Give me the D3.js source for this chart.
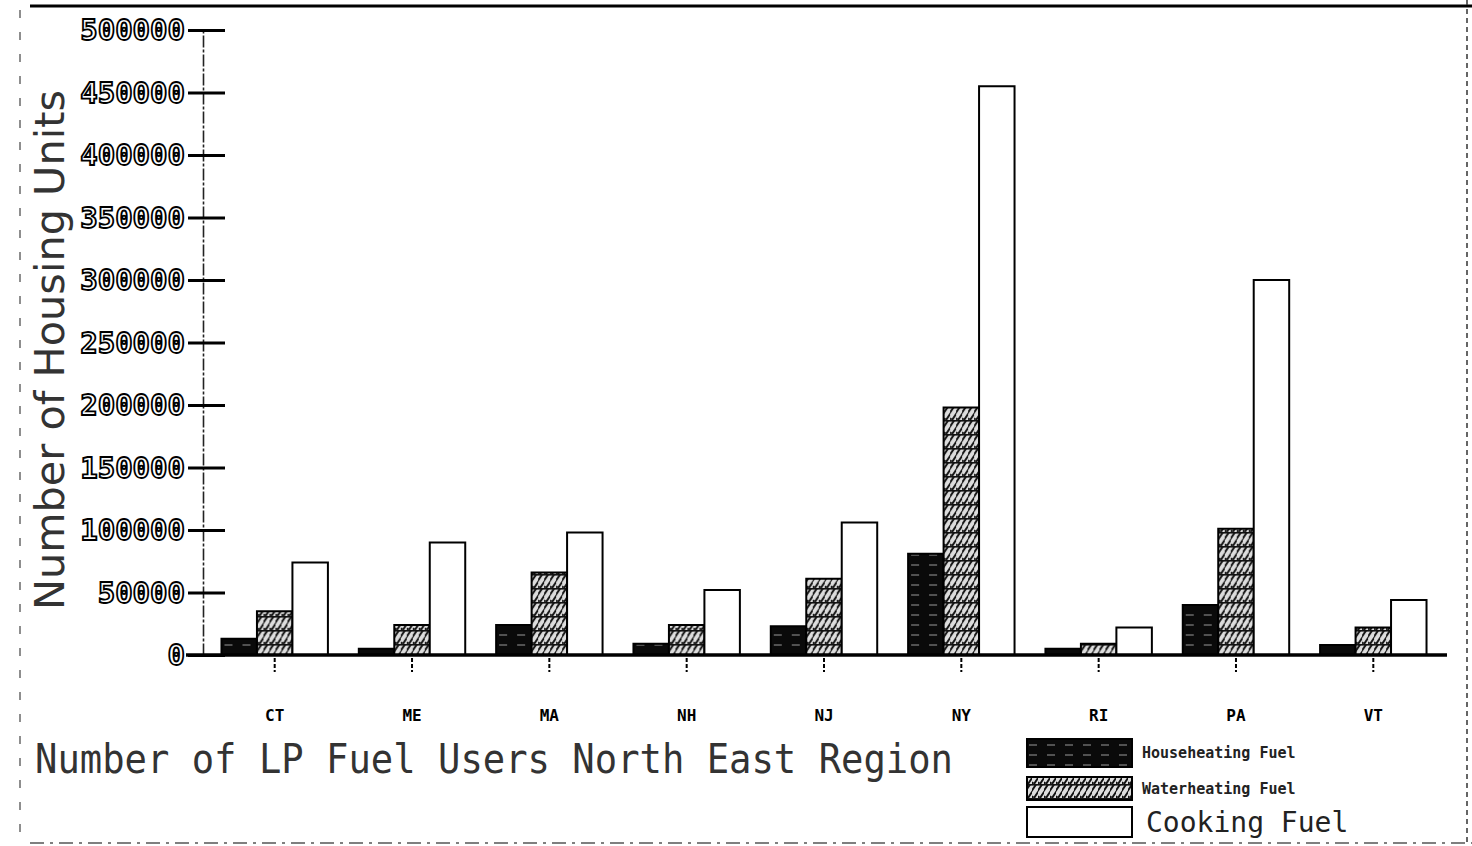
<!DOCTYPE html>
<html>
<head>
<meta charset="utf-8">
<script src="https://cdn.jsdelivr.net/npm/d3@7"></script>
<style>
  body { margin: 0; background: #fff; }
  svg { display: block; }
</style>
</head>
<body>
<div id="chart"></div>
<script>
const width = 1472;
const height = 846;

const states = ["CT", "ME", "MA", "NH", "NJ", "NY", "RI", "PA", "VT"];
const seriesNames = ["Househeating Fuel", "Waterheating Fuel", "Cooking Fuel"];
const househeating = [13000, 5000, 24000, 9000, 23000, 81000, 5000, 40000, 8000];
const waterheating = [35000, 24000, 66000, 24000, 61000, 198000, 9000, 101000, 22000];
const cooking = [74000, 90000, 98000, 52000, 106000, 455000, 22000, 300000, 44000];
const yTicks = [0, 50000, 100000, 150000, 200000, 250000, 300000, 350000, 400000, 450000, 500000];

const seriesValues = [househeating, waterheating, cooking];
const fills = ["url(#house)", "url(#water)", "#fff"];

const svg = d3.select("#chart")
    .append("svg")
    .attr("width", width)
    .attr("height", height);

const defs = svg.append("defs");

// dark fill with broken white streaks
const house = defs.append("pattern")
    .attr("id", "house")
    .attr("patternUnits", "userSpaceOnUse")
    .attr("width", 18)
    .attr("height", 10);
house.append("rect").attr("width", 18).attr("height", 10).attr("fill", "#0a0a0a");
house.append("line")
    .attr("x1", 3).attr("x2", 11).attr("y1", 5).attr("y2", 5)
    .attr("stroke", "#999").attr("stroke-width", 1);

// diagonal hatch
const water = defs.append("pattern")
    .attr("id", "water")
    .attr("patternUnits", "userSpaceOnUse")
    .attr("width", 6)
    .attr("height", 14);
water.append("rect").attr("width", 6).attr("height", 14).attr("fill", "#ddd");
water.append("path")
    .attr("d", "M-1,8 L5,-1 M2,14 L8,5 M-1,15 L1,12")
    .attr("stroke", "#111").attr("stroke-width", 2);
water.append("line")
    .attr("x1", 0).attr("x2", 6).attr("y1", 0.8).attr("y2", 0.8)
    .attr("stroke", "#111").attr("stroke-width", 1.6);

const x0 = d3.scaleBand()
    .domain(states)
    .range([205, 1443])
    .paddingInner(0.225)
    .paddingOuter(0.12);

const x1 = d3.scaleBand()
    .domain(seriesNames)
    .range([0, x0.bandwidth()]);

const y = d3.scaleLinear()
    .domain([0, 500000])
    .range([655, 30]);

// frame
svg.append("line")
    .attr("x1", 30).attr("x2", width).attr("y1", 6).attr("y2", 6)
    .attr("stroke", "#000").attr("stroke-width", 3);
svg.append("line")
    .attr("x1", 30).attr("x2", width).attr("y1", 843).attr("y2", 843)
    .attr("stroke", "#555").attr("stroke-width", 1.5)
    .attr("stroke-dasharray", "14 6 3 6");
svg.append("line")
    .attr("x1", 1467).attr("x2", 1467).attr("y1", 0).attr("y2", height)
    .attr("stroke", "#333").attr("stroke-width", 1.5)
    .attr("stroke-dasharray", "5 4");
svg.append("line")
    .attr("x1", 20).attr("x2", 20).attr("y1", 10).attr("y2", height)
    .attr("stroke", "#444").attr("stroke-width", 1.2)
    .attr("stroke-dasharray", "8 14");

// y axis
const yAxis = d3.axisLeft(y)
    .tickValues(yTicks)
    .tickSize(0)
    .tickPadding(18)
    .tickFormat(d3.format("d"));

const yG = svg.append("g")
    .attr("transform", "translate(203,0)")
    .call(yAxis);
yG.select(".domain")
    .attr("stroke", "#222")
    .attr("stroke-width", 1.6)
    .attr("stroke-dasharray", "12 2 3 2");
yG.selectAll(".tick").append("line")
    .attr("x1", -15).attr("x2", 22)
    .attr("stroke", "#000").attr("stroke-width", 3);
yG.selectAll(".tick text")
    .attr("font-family", "DejaVu Sans Mono, monospace")
    .attr("font-size", 29)
    .attr("font-weight", "bold")
    .attr("fill", "#fff")
    .attr("stroke", "#000")
    .attr("stroke-width", 1.8)
    .attr("dy", "0.34em");

// bars
const groups = svg.append("g")
    .selectAll("g")
    .data(states)
    .join("g")
    .attr("transform", d => `translate(${x0(d)},0)`);

groups.selectAll("rect")
    .data((d, i) => seriesNames.map((s, j) => ({ key: s, value: seriesValues[j][i], fill: fills[j] })))
    .join("rect")
    .attr("x", d => x1(d.key))
    .attr("y", d => y(d.value))
    .attr("width", x1.bandwidth())
    .attr("height", d => y(0) - y(d.value))
    .attr("fill", d => d.fill)
    .attr("stroke", "#000")
    .attr("stroke-width", 2);

// baseline and category axis
svg.append("line")
    .attr("x1", 186).attr("x2", 1447).attr("y1", y(0)).attr("y2", y(0))
    .attr("stroke", "#000").attr("stroke-width", 3.5);

const xAxis = d3.axisBottom(x0)
    .tickSize(14)
    .tickPadding(38);

const xG = svg.append("g")
    .attr("transform", `translate(0,${y(0) + 3})`)
    .call(xAxis);
xG.select(".domain").remove();
xG.selectAll(".tick line")
    .attr("stroke", "#000")
    .attr("stroke-width", 2)
    .attr("stroke-dasharray", "4 2");
xG.selectAll(".tick text")
    .attr("font-family", "DejaVu Sans Mono, monospace")
    .attr("font-size", 16)
    .attr("font-weight", "bold")
    .attr("fill", "#000");

// y title
svg.append("text")
    .attr("transform", "translate(64,350) rotate(-90)")
    .attr("text-anchor", "middle")
    .attr("font-family", "DejaVu Sans Condensed, DejaVu Sans, sans-serif")
    .attr("font-size", 41)
    .attr("fill", "#333")
    .attr("textLength", 520)
    .attr("lengthAdjust", "spacingAndGlyphs")
    .text("Number of Housing Units");

// title
svg.append("text")
    .attr("x", 35)
    .attr("y", 773)
    .attr("font-family", "DejaVu Sans Mono, monospace")
    .attr("font-size", 40)
    .attr("fill", "#333")
    .attr("textLength", 918)
    .attr("lengthAdjust", "spacingAndGlyphs")
    .text("Number of LP Fuel Users North East Region");

// legend
const legendRows = [
    { y: 739, h: 28, size: 15, tx: 1142 },
    { y: 777, h: 23, size: 15, tx: 1142 },
    { y: 807, h: 30, size: 28, tx: 1146 }
];
const legend = svg.append("g");
legend.selectAll("rect")
    .data(seriesNames)
    .join("rect")
    .attr("x", 1027)
    .attr("y", (d, i) => legendRows[i].y)
    .attr("width", 105)
    .attr("height", (d, i) => legendRows[i].h)
    .attr("fill", (d, i) => fills[i])
    .attr("stroke", "#000")
    .attr("stroke-width", 2);
legend.selectAll("text")
    .data(seriesNames)
    .join("text")
    .attr("x", (d, i) => legendRows[i].tx)
    .attr("y", (d, i) => legendRows[i].y + legendRows[i].h / 2)
    .attr("dy", "0.35em")
    .attr("font-family", "DejaVu Sans Mono, monospace")
    .attr("font-size", (d, i) => legendRows[i].size)
    .attr("font-weight", (d, i) => i < 2 ? "bold" : "normal")
    .attr("fill", "#222")
    .text(d => d);
</script>
</body>
</html>
